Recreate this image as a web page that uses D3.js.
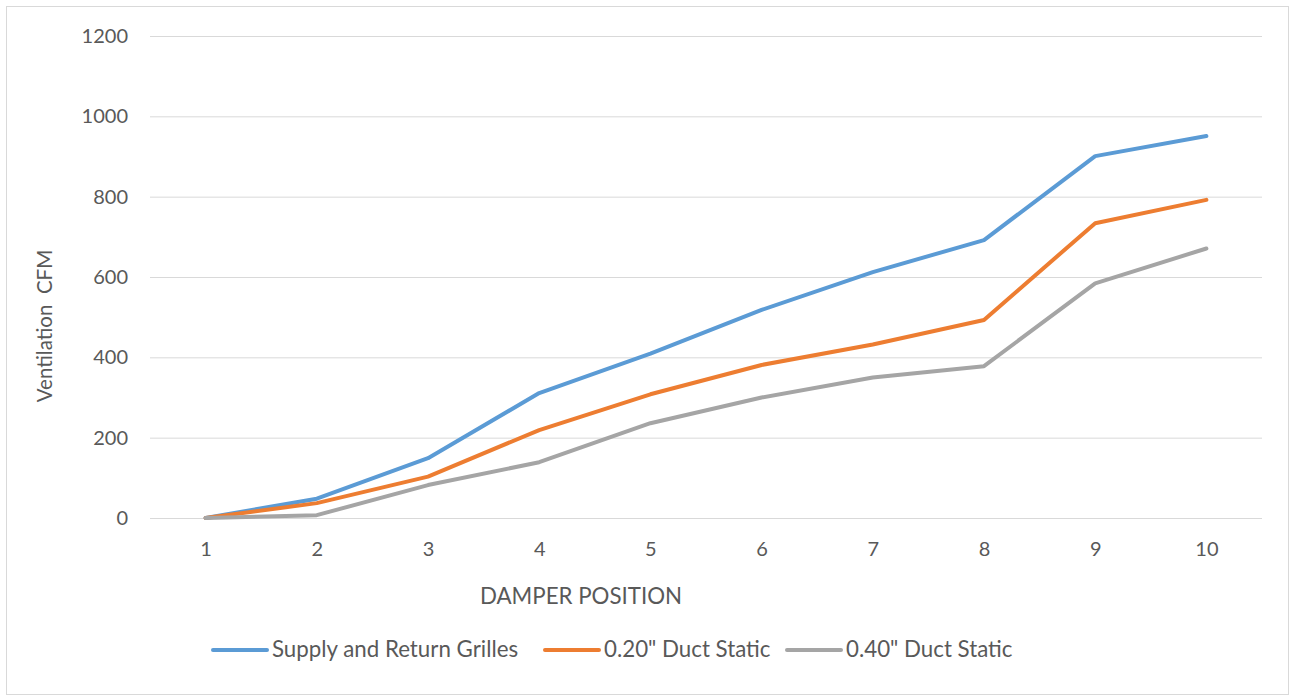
<!DOCTYPE html>
<html><head><meta charset="utf-8">
<script src="https://cdn.jsdelivr.net/npm/d3@7"></script>
<style>
html,body{margin:0;padding:0;background:#fff;}
svg text{font-family:Lato,"Open Sans",sans-serif;fill:#595959;}
</style></head>
<body>
<svg id="chart" width="1290" height="696"></svg>
<script>
const positions = [1,2,3,4,5,6,7,8,9,10];
const seriesNames = ["Supply and Return Grilles", "0.20\" Duct Static", "0.40\" Duct Static"];
const supplyReturn = [0, 48, 149, 311, 409, 518, 612, 692, 901, 951];
const duct020 = [0, 37, 103, 219, 308, 381, 432, 493, 734, 792];
const duct040 = [0, 7, 82, 139, 236, 300, 350, 378, 584, 671];
const yTicks = [0, 200, 400, 600, 800, 1000, 1200];
const colors = ["#5b9bd5", "#ed7d31", "#a5a5a5"];
const allSeries = [supplyReturn, duct020, duct040];

const svg = d3.select("#chart");
svg.append("rect").attr("x",6.5).attr("y",6.5).attr("width",1282).attr("height",688)
  .attr("fill","#fff").attr("stroke","#d9d9d9").attr("stroke-width",1);

const x = d3.scalePoint().domain(positions).range([150,1262]).padding(0.5);
const y = d3.scaleLinear().domain([0,1200]).range([518,36]);

const yAxis = d3.axisLeft(y).tickValues(yTicks).tickFormat(d3.format("d")).tickSize(-(1262-150)).tickPadding(22);
const gy = svg.append("g").attr("transform","translate(150,0)").call(yAxis);
gy.select(".domain").remove();
gy.selectAll(".tick line").attr("stroke","#d9d9d9").attr("stroke-width",1);
gy.selectAll(".tick text").style("font-size","20px").attr("x",-22);

const xAxis = d3.axisBottom(x).tickSize(0).tickPadding(24);
const gx = svg.append("g").attr("transform","translate(0,518)").call(xAxis);
gx.select(".domain").remove();
gx.selectAll(".tick text").style("font-size","20px");

const line = d3.line().x((d,i)=>x(positions[i])).y(d=>y(d));
allSeries.forEach((s,k)=>{
  svg.append("path").datum(s).attr("d",line).attr("fill","none")
    .attr("stroke",colors[k]).attr("stroke-width",4).attr("stroke-linejoin","round").attr("stroke-linecap","round");
});

svg.append("text").attr("transform","translate(52,326) rotate(-90)").attr("text-anchor","middle")
  .style("font-size","20.5px").text("Ventilation\u00a0\u00a0CFM");
svg.append("text").attr("x",581).attr("y",604).attr("text-anchor","middle")
  .style("font-size","22.3px").text("DAMPER POSITION");

const legX = [213, 545, 787];
const legend = svg.append("g");
seriesNames.forEach((n,k)=>{
  legend.append("line").attr("x1",legX[k]).attr("x2",legX[k]+54).attr("y1",650).attr("y2",650)
    .attr("stroke",colors[k]).attr("stroke-width",4).attr("stroke-linecap","round");
  legend.append("text").attr("x",legX[k]+59).attr("y",657).style("font-size","22.3px").text(n);
});
</script>
</body></html>
